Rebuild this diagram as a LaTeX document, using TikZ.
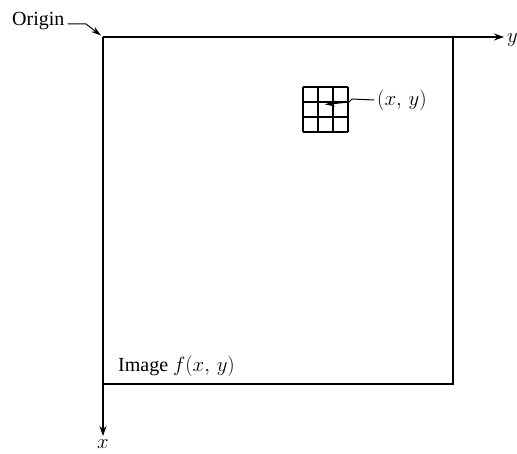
\documentclass[tikz,border=0pt]{standalone}
\usepackage{fontspec}
\setmainfont{Liberation Serif}
\usetikzlibrary{arrows.meta}
\begin{document}
\begin{tikzpicture}[x=1pt,y=-1pt,
  line/.style={line width=1.3pt},
  axis/.style={line width=1.3pt,-{Stealth[length=10pt,width=7pt]}},
  lead/.style={line width=1pt,-{Stealth[length=10pt,width=6pt]}},
  lbl/.style={font=\fontsize{20}{23}\selectfont, inner sep=0pt}]
\useasboundingbox (0,0) rectangle (517,454);
\fill[white] (0,0) rectangle (517,454);
% corners
\coordinate (O) at (103,37);
\coordinate (TR) at (453,37);
\coordinate (BR) at (453,384);
\coordinate (BL) at (103,384);
\coordinate (yend) at (504,37);
\coordinate (xend) at (103,436);
% axes and box
\draw[axis] (O) -- (yend);
\draw[axis] (O) -- (xend);
\draw[line] (TR) -- (BR) -- (BL);
% labels
\node[lbl, anchor=base west] (ylab) at (507,43) {$y$};
\node[lbl, anchor=north] (xlab) at (103,439) {$x$};
\node[lbl, anchor=base west] (origin) at (12,26) {Origin};
\node[lbl, anchor=base west] (image) at (118,372) {Image $f(x,\,y)$};
\node[lbl, anchor=west] (pt) at (377,100) {$(x,\,y)$};
% origin leader
\coordinate (o1) at (86,24);
\draw[lead] ([xshift=3pt]origin.east |- 0,24) -- (o1) -- (101,35.5);
% grid
\foreach \i in {0,1,2,3} {
  \draw[line width=1.1pt] (303+15*\i,87) -- (303+15*\i,132);
  \draw[line width=1.1pt] (303,87+15*\i) -- (348,87+15*\i);
}
\coordinate (g1) at (352,99);
\coordinate (g2) at (349,102);
\coordinate (gc) at (325,104.5);
\draw[lead] ([xshift=-3pt]pt.west) -- (g1) -- (g2) -- (gc);
\end{tikzpicture}
\end{document}
